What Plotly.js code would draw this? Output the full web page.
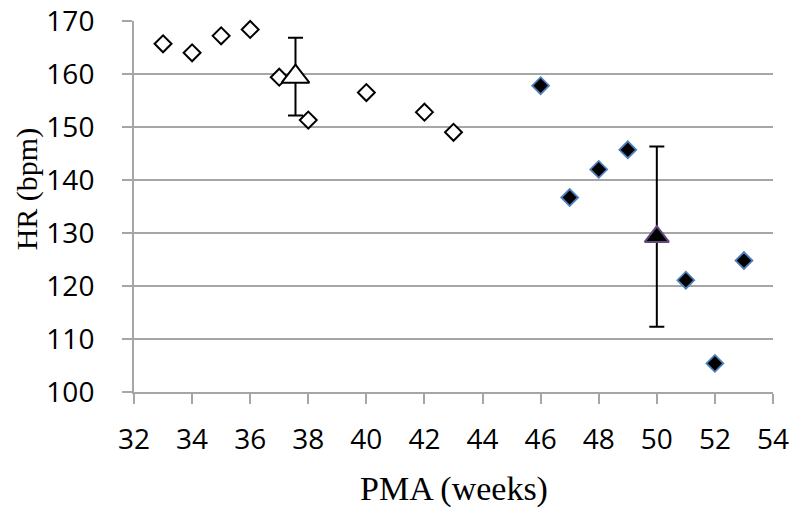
<!DOCTYPE html>
<html>
<head>
<meta charset="utf-8">
<script src="https://cdn.plot.ly/plotly-3.0.1.min.js"></script>
<style>html,body{margin:0;padding:0;background:#fff;}#chart{width:800px;height:520px;}</style>
</head>
<body>
<div id="chart"></div>
<script>
// Early PMA (open diamonds)
const earlyPMA = [33, 34, 35, 36, 37, 38, 40, 42, 43];
const earlyHR  = [165.7, 164.0, 167.2, 168.4, 159.4, 151.3, 156.5, 152.8, 149.0];
// Late PMA (filled diamonds)
const latePMA = [46, 47, 48, 49, 51, 52, 53];
const lateHR  = [157.8, 136.7, 142.0, 145.7, 121.1, 105.4, 124.8];
// Group means with error bars
const meanEarlyPMA = [37.56];
const meanEarlyHR  = [159.5];
const meanEarlyErr = [7.35];
const meanLatePMA = [50];
const meanLateHR  = [129.3];
const meanLateErr = [17.0];
const xTickVals = [32, 34, 36, 38, 40, 42, 44, 46, 48, 50, 52, 54];
const yTickVals = [100, 110, 120, 130, 140, 150, 160, 170];

const axisGray = '#a6a6a6';
const tickFont = {family: 'Open Sans, Calibri, sans-serif', size: 28, color: '#000'};
const serif = 'Liberation Serif, Times New Roman, serif';

const traces = [
  {
    x: earlyPMA, y: earlyHR, type: 'scatter', mode: 'markers', cliponaxis: false,
    marker: {symbol: 'diamond', size: 13, color: '#ffffff', line: {color: '#000000', width: 2}},
    hoverinfo: 'skip'
  },
  {
    x: latePMA, y: lateHR, type: 'scatter', mode: 'markers', cliponaxis: false,
    marker: {symbol: 'diamond', size: 13, color: '#000000', line: {color: '#4f81bd', width: 1.8}},
    hoverinfo: 'skip'
  },
  {
    x: meanEarlyPMA, y: meanEarlyHR, type: 'scatter', mode: 'markers', cliponaxis: false,
    marker: {symbol: 'triangle-up', size: 24, color: '#ffffff', line: {color: '#000000', width: 2}},
    error_y: {type: 'data', array: meanEarlyErr, symmetric: true, color: '#000000', thickness: 2, width: 7.5},
    hoverinfo: 'skip'
  },
  {
    x: meanLatePMA, y: meanLateHR, type: 'scatter', mode: 'markers', cliponaxis: false,
    marker: {symbol: 'triangle-up', size: 21, color: '#000000', line: {color: '#604a7b', width: 2}},
    error_y: {type: 'data', array: meanLateErr, symmetric: true, color: '#000000', thickness: 2, width: 7.5},
    hoverinfo: 'skip'
  }
];

const layout = {
  width: 800, height: 520,
  margin: {l: 134, r: 27, t: 21, b: 128, pad: 0},
  paper_bgcolor: '#ffffff', plot_bgcolor: '#ffffff',
  showlegend: false,
  xaxis: {
    range: [32, 54], tickvals: xTickVals, ticktext: xTickVals.map(String),
    showgrid: false, zeroline: false,
    showline: true, linecolor: axisGray, linewidth: 2,
    ticks: 'outside', ticklen: 10, tickwidth: 2, tickcolor: axisGray,
    tickfont: tickFont, ticklabelstandoff: 11
  },
  yaxis: {
    range: [100, 170], tickvals: yTickVals, ticktext: yTickVals.map(String),
    showgrid: true, gridcolor: axisGray, gridwidth: 2, zeroline: false,
    showline: true, linecolor: axisGray, linewidth: 2,
    ticks: 'outside', ticklen: 10, tickwidth: 2, tickcolor: axisGray,
    tickfont: tickFont, ticklabelstandoff: 22
  },
  annotations: [
    {text: 'PMA (weeks)', xref: 'paper', yref: 'paper', x: 0.5, y: -0.261,
     xanchor: 'center', yanchor: 'middle', showarrow: false,
     font: {family: serif, size: 34, color: '#000'}},
    {text: 'HR (bpm)', xref: 'paper', yref: 'paper', x: -0.168, y: 0.548,
     xanchor: 'center', yanchor: 'middle', showarrow: false, textangle: -90,
     font: {family: serif, size: 30, color: '#000'}}
  ]
};

Plotly.newPlot('chart', traces, layout, {staticPlot: true, displayModeBar: false});
</script>
</body>
</html>
